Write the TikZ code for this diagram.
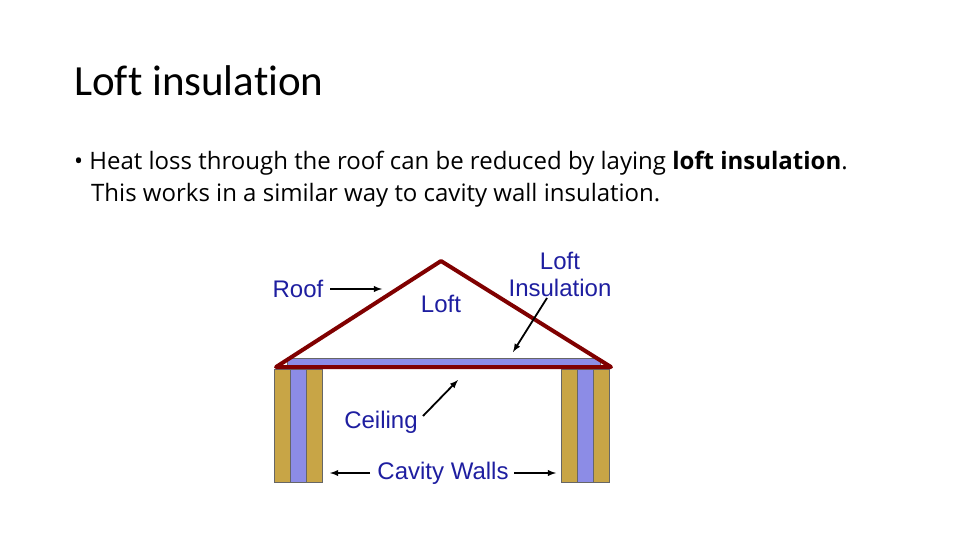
\documentclass[tikz,border=0pt]{standalone}
\usepackage{fontspec}
\setmainfont{Carlito}[Ligatures=CommonOff]
\newfontfamily\arialf{Liberation Sans}
\newfontfamily\bodyf{Open Sans}
\definecolor{lbl}{RGB}{30,30,160}
\definecolor{roofc}{RGB}{128,0,0}
\definecolor{tan}{RGB}{200,165,70}
\definecolor{insul}{RGB}{140,140,230}
\begin{document}
\begin{tikzpicture}[x=1pt,y=-1pt,
  lab/.style={font=\arialf\fontsize{24}{26}\selectfont, text=lbl, inner sep=0pt},
  arr/.style={-latex, line width=1.8pt},
  tanbox/.style={fill=tan, draw=black!60, line width=0.4pt},
  bluebox/.style={fill=insul, draw=black!60, line width=0.4pt}]
\useasboundingbox (0,0) rectangle (960,540);
\node[anchor=base west, font=\fontsize{43}{46}\selectfont, inner sep=0pt] (title) at (74,96) {Loft insulation};
\node[anchor=base west, font=\bodyf\fontsize{24}{28}\selectfont, inner sep=0pt] (body) at (74,170)
 {\textbullet\ Heat loss through the roof can be reduced by laying \textbf{loft insulation}.};
\node[anchor=base west, font=\bodyf\fontsize{24}{28}\selectfont, inner sep=0pt] (body2) at (91,201)
 {This works in a similar way to cavity wall insulation.};
% walls
\draw[tanbox] (274,369) rectangle (290,482);
\draw[bluebox] (290,369) rectangle (306,482);
\draw[tanbox] (306,369) rectangle (322,482);
\draw[tanbox] (561,369) rectangle (577,482);
\draw[bluebox] (577,369) rectangle (593,482);
\draw[tanbox] (593,369) rectangle (609,482);
% insulation
\draw[bluebox] (287,358) rectangle (600,365);
% roof
\draw[roofc, line width=4pt, line join=round] (276,367) -- (441,261) -- (611,367) -- cycle;
% labels
\node[lab] (roof) at (298,289) {Roof};
\coordinate (roofpt) at (382,289);
\draw[arr] (330,289) -- (roofpt);
\node[lab] (loft) at (441,304) {Loft};
\node[lab, align=center] (li) at (560,274) {Loft\\[1pt]Insulation};
\coordinate (lipt) at (513,352);
\draw[arr] (547,298) -- (lipt);
\node[lab] (ceil) at (381,422) {Ceiling};
\coordinate (ceilpt) at (458,380);
\draw[arr] (423,416) -- (ceilpt);
\node[lab] (cav) at (443,473) {Cavity Walls};
\coordinate (cl) at (330,473);
\coordinate (cr) at (556,473);
\draw[arr] (370,473) -- (cl);
\draw[arr] (514,473) -- (cr);
\end{tikzpicture}
\end{document}
